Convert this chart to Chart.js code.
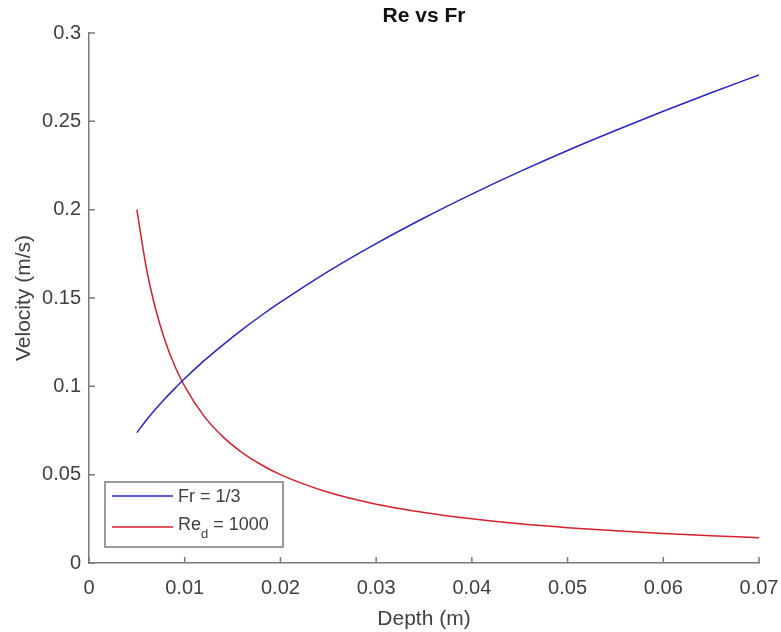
<!DOCTYPE html>
<html>
<head>
<meta charset="utf-8">
<script src="https://cdn.jsdelivr.net/npm/chart.js@4/dist/chart.umd.min.js"></script>
<style>
  body { margin: 0; background: #fff; }
</style>
</head>
<body>
<canvas id="chart" width="781" height="632"></canvas>
<script>
// depth (m) sample points
const depth = [0.005, 0.006, 0.007, 0.008, 0.009, 0.010, 0.012, 0.014, 0.016, 0.018, 0.020,
               0.025, 0.030, 0.035, 0.040, 0.045, 0.050, 0.055, 0.060, 0.065, 0.070];
// velocity (m/s) for Fr = 1/3
const frVel = [0.0738, 0.0809, 0.0874, 0.0934, 0.0990, 0.1044, 0.1144, 0.1235, 0.1321, 0.1401, 0.1476,
               0.1651, 0.1808, 0.1953, 0.2088, 0.2215, 0.2335, 0.2448, 0.2557, 0.2662, 0.2762];
// velocity (m/s) for Re_d = 1000
const reVel = [0.2000, 0.1667, 0.1429, 0.1250, 0.1111, 0.1000, 0.0833, 0.0714, 0.0625, 0.0556, 0.0500,
               0.0400, 0.0333, 0.0286, 0.0250, 0.0222, 0.0200, 0.0182, 0.0167, 0.0154, 0.0143];
const xTicks = [0, 0.01, 0.02, 0.03, 0.04, 0.05, 0.06, 0.07];
const yTicks = [0, 0.05, 0.1, 0.15, 0.2, 0.25, 0.3];

const blue = '#2626c4';
const red = '#d8202c';
const axisColor = '#7a7a7a';
const textColor = '#404040';
const fontFamily = '"Liberation Sans", Arial, sans-serif';

const fmt = v => String(parseFloat(v.toFixed(3)));

// inward tick marks, title and the in-axes legend
const extras = {
  id: 'extras',
  afterDraw(chart) {
    const ctx = chart.ctx;
    const area = chart.chartArea;
    const xs = chart.scales.x, ys = chart.scales.y;
    ctx.save();
    ctx.strokeStyle = axisColor;
    ctx.lineWidth = 1.5;
    ctx.beginPath();
    xTicks.forEach(v => {
      const px = xs.getPixelForValue(v);
      ctx.moveTo(px, area.bottom);
      ctx.lineTo(px, area.bottom - 6);
    });
    yTicks.forEach(v => {
      const py = ys.getPixelForValue(v);
      ctx.moveTo(area.left, py);
      ctx.lineTo(area.left + 6, py);
    });
    ctx.stroke();

    // title
    ctx.fillStyle = '#111';
    ctx.font = 'bold 21px ' + fontFamily;
    ctx.textAlign = 'center';
    ctx.textBaseline = 'middle';
    ctx.fillText('Re vs Fr', (area.left + area.right) / 2, 16);

    // legend
    const lx = 105, ly = 482, lw = 178, lh = 65;
    ctx.fillStyle = '#fff';
    ctx.fillRect(lx, ly, lw, lh);
    ctx.strokeStyle = axisColor;
    ctx.lineWidth = 1.5;
    ctx.strokeRect(lx, ly, lw, lh);

    ctx.lineWidth = 1.5;
    ctx.strokeStyle = blue;
    ctx.beginPath(); ctx.moveTo(112, 496); ctx.lineTo(173, 496); ctx.stroke();
    ctx.strokeStyle = red;
    ctx.beginPath(); ctx.moveTo(112, 527); ctx.lineTo(173, 527); ctx.stroke();

    ctx.fillStyle = textColor;
    ctx.textAlign = 'left';
    ctx.textBaseline = 'middle';
    ctx.font = '18px ' + fontFamily;
    ctx.fillText('Fr = 1/3', 178, 497);
    ctx.fillText('Re', 178, 525);
    const reW = ctx.measureText('Re').width;
    ctx.font = '13px ' + fontFamily;
    ctx.fillText('d', 178 + reW, 534);
    const dW = ctx.measureText('d').width;
    ctx.font = '18px ' + fontFamily;
    ctx.fillText(' = 1000', 178 + reW + dW, 525);
    ctx.restore();
  }
};

new Chart(document.getElementById('chart').getContext('2d'), {
  type: 'line',
  data: {
    datasets: [
      {
        label: 'Fr = 1/3',
        data: depth.map((d, i) => ({ x: d, y: frVel[i] })),
        borderColor: blue,
        borderWidth: 1.5,
        pointRadius: 0,
        cubicInterpolationMode: 'monotone',
        fill: false
      },
      {
        label: 'Re_d = 1000',
        data: depth.map((d, i) => ({ x: d, y: reVel[i] })),
        borderColor: red,
        borderWidth: 1.5,
        pointRadius: 0,
        cubicInterpolationMode: 'monotone',
        fill: false
      }
    ]
  },
  options: {
    responsive: false,
    animation: false,
    layout: { padding: { top: 33, right: 22, left: 0, bottom: 0 } },
    plugins: {
      legend: { display: false },
      title: { display: false },
      tooltip: { enabled: false }
    },
    scales: {
      x: {
        type: 'linear',
        min: 0,
        max: 0.07,
        afterBuildTicks: s => { s.ticks = xTicks.map(v => ({ value: v })); },
        afterFit: s => { s.height = 69; s.paddingLeft = 0; s.paddingRight = 0; },
        grid: { display: true, drawOnChartArea: false, drawTicks: false },
        border: { color: axisColor, width: 1.5 },
        ticks: {
          color: textColor,
          font: { family: fontFamily, size: 20 },
          padding: 13,
          maxRotation: 0,
          callback: v => fmt(v)
        },
        title: {
          display: true,
          text: 'Depth (m)',
          color: textColor,
          font: { family: fontFamily, size: 21 },
          padding: { top: 2, bottom: 0 }
        }
      },
      y: {
        type: 'linear',
        min: 0,
        max: 0.3,
        afterBuildTicks: s => { s.ticks = yTicks.map(v => ({ value: v })); },
        afterFit: s => { s.width = 89; s.paddingTop = 0; s.paddingBottom = 0; },
        grid: { display: true, drawOnChartArea: false, drawTicks: false },
        border: { color: axisColor, width: 1.5 },
        ticks: {
          color: textColor,
          font: { family: fontFamily, size: 20 },
          padding: 8,
          callback: v => fmt(v)
        },
        title: {
          display: true,
          text: 'Velocity (m/s)',
          color: textColor,
          font: { family: fontFamily, size: 21 },
          padding: { top: 12, bottom: 0 }
        }
      }
    }
  },
  plugins: [extras]
});
</script>
</body>
</html>
